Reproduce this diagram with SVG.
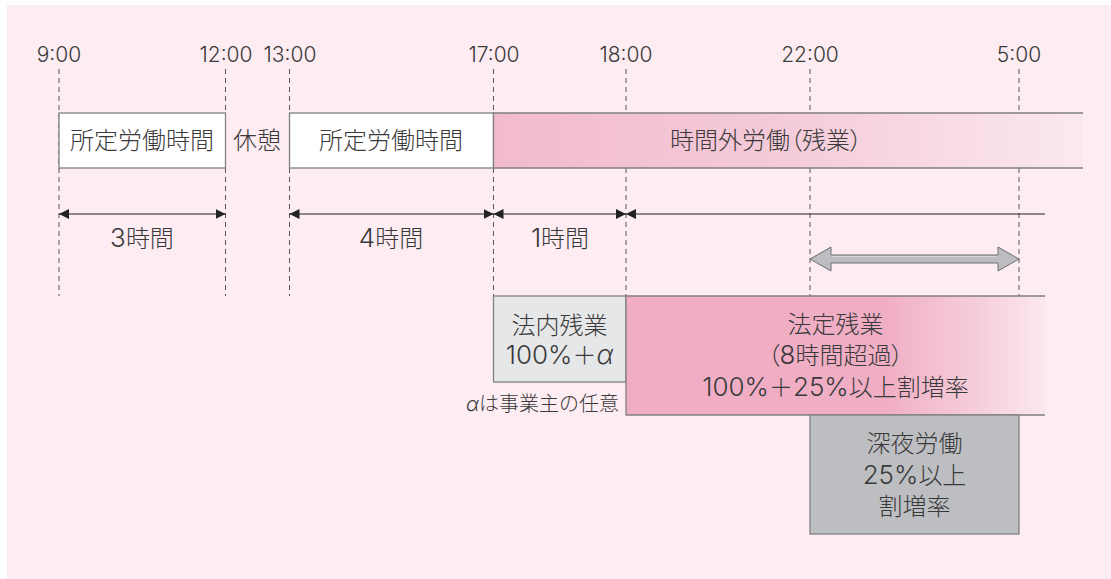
<svg xmlns="http://www.w3.org/2000/svg" width="1111" height="579" viewBox="0 0 1111 579">
<style>
.t{font-family:"Inter","Noto Sans CJK JP",sans-serif;fill:#3a3a3a;font-weight:300}
.tm{font-size:21px;text-anchor:middle}
.lb{font-size:24px;text-anchor:middle}
.n{font-size:26px}
.sm{font-size:20px;text-anchor:end}
.it{font-style:italic}
.p{font-feature-settings:"palt"}
.dash{stroke:#555;stroke-width:1;stroke-dasharray:5 4;fill:none}
.bx{stroke:#808080;stroke-width:1.3}
.edge{stroke:#808080;stroke-width:1.3;fill:none}
.arr{stroke:#222;stroke-width:1.2;fill:none}
</style>
<defs>
<marker id="ah" viewBox="0 0 10 10" refX="10" refY="5" markerWidth="10" markerHeight="10" markerUnits="userSpaceOnUse" orient="auto-start-reverse">
<path d="M0,0 L10,5 L0,10 z" fill="#222"/>
</marker>
<linearGradient id="gBand" gradientUnits="userSpaceOnUse" x1="493" y1="0" x2="1083" y2="0">
<stop offset="0" stop-color="#f2bbcd"/>
<stop offset="0.45" stop-color="#f4c9d7"/>
<stop offset="1" stop-color="#fbe8ee"/>
</linearGradient>
<linearGradient id="gLegal" gradientUnits="userSpaceOnUse" x1="626" y1="0" x2="1045" y2="0">
<stop offset="0" stop-color="#f0adc4"/>
<stop offset="0.62" stop-color="#f0aec5"/>
<stop offset="0.85" stop-color="#f6d0dc"/>
<stop offset="1" stop-color="#fbe8ee"/>
</linearGradient>
</defs>
<rect x="7" y="5" width="1104" height="574" fill="#fdedf2"/>
<g id="guides">
<line class="dash" x1="59" y1="69" x2="59" y2="296"/>
<line class="dash" x1="225.5" y1="69" x2="225.5" y2="296"/>
<line class="dash" x1="289.5" y1="69" x2="289.5" y2="296"/>
<line class="dash" x1="493.5" y1="69" x2="493.5" y2="296"/>
<line class="dash" x1="626" y1="69" x2="626" y2="296"/>
<line class="dash" x1="810" y1="69" x2="810" y2="296"/>
<line class="dash" x1="1019" y1="69" x2="1019" y2="296"/>
</g>
<g id="times" class="t tm">
<text x="59" y="62">9:00</text>
<text x="226" y="62">12:00</text>
<text x="290" y="62">13:00</text>
<text x="494" y="62">17:00</text>
<text x="626" y="62">18:00</text>
<text x="810" y="62">22:00</text>
<text x="1019" y="62">5:00</text>
</g>
<g id="work1">
<rect class="bx" x="59" y="113" width="166.5" height="55" fill="#fff"/>
<text class="t lb" x="142" y="149">所定労働時間</text>
</g>
<g id="break">
<text class="t lb" x="257" y="149">休憩</text>
</g>
<g id="work2">
<rect class="bx" x="289.5" y="113" width="204" height="55" fill="#fff"/>
<text class="t lb" x="391" y="149">所定労働時間</text>
</g>
<g id="overtime">
<rect x="493.5" y="113" width="589.5" height="55" fill="url(#gBand)"/>
<path class="edge" d="M1083,113 H493.5 V168 H1083"/>
<text class="t lb" x="766" y="149">時間外労働<tspan class="p">（</tspan>残業<tspan class="p">）</tspan></text>
</g>
<g id="connectors">
<line class="arr" x1="59" y1="214" x2="225.5" y2="214" marker-start="url(#ah)" marker-end="url(#ah)"/>
<line class="arr" x1="289.5" y1="214" x2="493.5" y2="214" marker-start="url(#ah)" marker-end="url(#ah)"/>
<line class="arr" x1="493.5" y1="214" x2="626" y2="214" marker-start="url(#ah)" marker-end="url(#ah)"/>
<line class="arr" x1="626" y1="214" x2="1045" y2="214" marker-start="url(#ah)"/>
<polygon points="810,259 831,247 831,255 998,255 998,247 1019,259 998,271 998,263 831,263 831,271" fill="#bcbdc0" stroke="#6d6e71" stroke-width="1"/>
<line x1="832" y1="256.5" x2="997" y2="256.5" stroke="#d6d7d9" stroke-width="1"/>
</g>
<g id="labels3" class="t lb">
<text x="142" y="247"><tspan class="n">3</tspan>時間</text>
<text x="391" y="247"><tspan class="n">4</tspan>時間</text>
<text x="560" y="247"><tspan class="n">1</tspan>時間</text>
</g>
<g id="legal-inner">
<rect class="bx" x="493.5" y="296" width="132.5" height="86" fill="#e6e7e9"/>
<text class="t lb" x="559.5" y="334">法内残業</text>
<text class="t lb" x="559.5" y="364"><tspan class="n">100%</tspan>＋<tspan class="n it">α</tspan></text>
<text class="t sm" x="619" y="411"><tspan class="it">α</tspan>は事業主の任意</text>
</g>
<g id="legal-over">
<rect x="626" y="296" width="419" height="119" fill="url(#gLegal)"/>
<path class="edge" d="M1045,296 H626 V415 H1045"/>
<text class="t lb" x="835.5" y="333">法定残業</text>
<text class="t lb" x="835.5" y="364"><tspan class="p">（</tspan><tspan class="n">8</tspan>時間超過<tspan class="p">）</tspan></text>
<text class="t lb" x="835.5" y="396"><tspan class="n">100%</tspan>＋<tspan class="n">25%</tspan>以上割増率</text>
</g>
<g id="night">
<rect class="bx" x="810" y="415" width="209" height="119" fill="#bdbec1"/>
<text class="t lb" x="914.5" y="452">深夜労働</text>
<text class="t lb" x="914.5" y="484"><tspan class="n">25%</tspan>以上</text>
<text class="t lb" x="914.5" y="515">割増率</text>
</g>
</svg>
